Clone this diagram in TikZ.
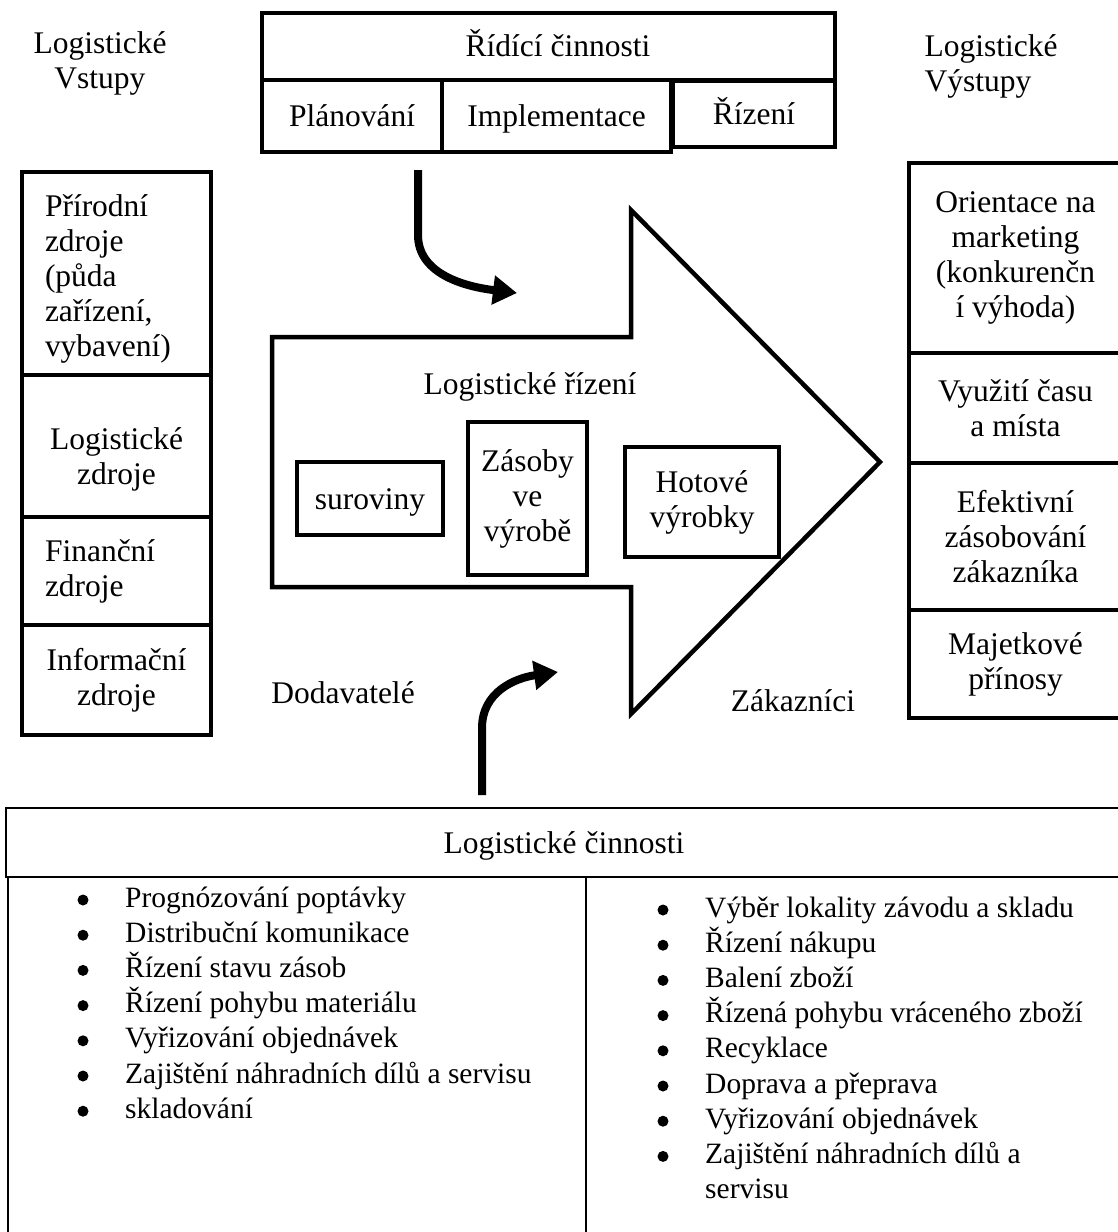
\documentclass[tikz,border=0pt]{standalone}
\usepackage{fontspec}
\setmainfont{Liberation Serif}
\usetikzlibrary{arrows.meta}
\tikzset{
  frame/.style={draw, line width=4.5pt, inner sep=0pt, align=center},
  thinframe/.style={draw, line width=2pt, inner sep=0pt},
  bigtext/.style={font=\fontsize{31.5}{35}\selectfont},
  oneline/.style={text height=25, text depth=4},
  listtext/.style={font=\fontsize{29.5}{35}\selectfont, inner sep=0pt, anchor=base west},
  dot/.style={circle, fill, inner sep=0pt, minimum size=11},
  flow/.style={line width=8pt, -{Triangle[length=24pt,width=28pt]}}
}

\begin{document}
\begin{tikzpicture}[x=1pt,y=-1pt]
		%%%%% START %%%%%
		\useasboundingbox (0,0) rectangle (1118,1232);
		
		\node[bigtext, align=center] (vstupy) at (100,63) {Logistické\\Vstupy};
		\node[bigtext, align=left, anchor=west] (vystupy) at (921,66) {Logistické\\Výstupy};
		
		\node[frame, bigtext, oneline, minimum width=573, minimum height=67] (ridici) at (548.5,46.5) {};
		\node[bigtext, oneline] (riditxt) at (558,46) {Řídící činnosti};
		\node[frame, bigtext, oneline, minimum width=180, minimum height=72] (planovani) at (352,116) {Plánování};
		\node[frame, bigtext, oneline, minimum width=229, minimum height=72] (implementace) at (556.5,116) {Implementace};
		\node[frame, bigtext, oneline, minimum width=162, minimum height=66] (rizeni) at (754,114) {Řízení};
		
		\node[frame, minimum width=189, minimum height=203] (prirodni) at (116.5,273.5) {};
		\node[bigtext, text width=143, align=left] (prirodnitxt) at (116.5,279) {Přírodní\\zdroje\\(půda\\zařízení,\\vybavení)};
		\node[frame, minimum width=189, minimum height=142] (logzdroje) at (116.5,446) {};
		\node[bigtext, align=center] (logzdrojetxt) at (116.5,459) {Logistické\\zdroje};
		\node[frame, bigtext, minimum width=189, minimum height=108, text width=143, align=left] (financni) at (116.5,571) {Finanční\\zdroje};
		\node[frame, bigtext, minimum width=189, minimum height=110] (informacni) at (116.5,680) {Informační\\zdroje};
		
		\node[frame, bigtext, minimum width=213, minimum height=190] (orientace) at (1015.5,258) {Orientace na\\marketing\\(konkurenčn\\í výhoda)};
		\node[frame, bigtext, minimum width=213, minimum height=110] (vyuziti) at (1015.5,408) {Využití času\\a místa};
		\node[frame, bigtext, minimum width=213, minimum height=147] (efektivni) at (1015.5,536.5) {Efektivní\\zásobování\\zákazníka};
		\node[frame, bigtext, minimum width=213, minimum height=108] (majetkove) at (1015.5,664) {Majetkové\\přínosy};
		
		\draw[line width=4.5pt, line join=miter] (272,337) -- (631,337) -- (631,210) -- (880,462) -- (631,714) -- (631,587) -- (272,587) -- cycle;
		
		\node[bigtext, oneline] (logrizeni) at (530,384) {Logistické řízení};
		\node[frame, bigtext, oneline, minimum width=146, minimum height=73] (suroviny) at (370,498.5) {suroviny};
		\node[frame, bigtext, minimum width=119, minimum height=153] (zasoby) at (527.5,498.5) {Zásoby\\ve\\výrobě};
		\node[frame, bigtext, minimum width=154, minimum height=110] (hotove) at (702,502) {Hotové\\výrobky};
		
		\node[bigtext, oneline] (dodavatele) at (343,693) {Dodavatelé};
		\node[bigtext, oneline] (zakaznici) at (793,701) {Zákazníci};
		
		\coordinate (shoraA) at (418,170);
		\coordinate (shoraB) at (517,293);
		\draw[flow] (shoraA) -- (418,235) .. controls (418,272) and (460,286) .. (shoraB);
		\coordinate (zdolaA) at (482,795);
		\coordinate (zdolaB) at (558,672);
		\draw[flow] (zdolaA) -- (482,728) .. controls (482,692) and (515,678) .. (zdolaB);
		
		\node[thinframe, bigtext, oneline, minimum width=1116, minimum height=69] (cinnosti) at (564,842.5) {Logistické činnosti};
		\draw[line width=2pt] (8,877) rectangle (586,1240);
		\draw[line width=2pt] (586,877) rectangle (1122,1240);
		
		\foreach \txt [count=\i from 0] in {Prognózování poptávky, Distribuční komunikace, Řízení stavu zásob, Řízení pohybu materiálu, Vyřizování objednávek, Zajištění náhradních dílů a servisu, skladování}{
			\node[dot] (lb\i) at (83,900+35.2*\i) {};
			\node[listtext] (lt\i) at (125,907+35.2*\i) {\txt};
		}
		\foreach \txt [count=\i from 0] in {Výběr lokality závodu a skladu, Řízení nákupu, Balení zboží, Řízená pohybu vráceného zboží, Recyklace, Doprava a přeprava, Vyřizování objednávek, Zajištění náhradních dílů a}{
			\node[dot] (rb\i) at (663,910+35.2*\i) {};
			\node[listtext] (rt\i) at (705,917+35.2*\i) {\txt};
		}
		\node[listtext] (rt8) at (705,917+35.2*8) {servisu};
		
		%%%%% END %%%%%
\end{tikzpicture}
\end{document}
